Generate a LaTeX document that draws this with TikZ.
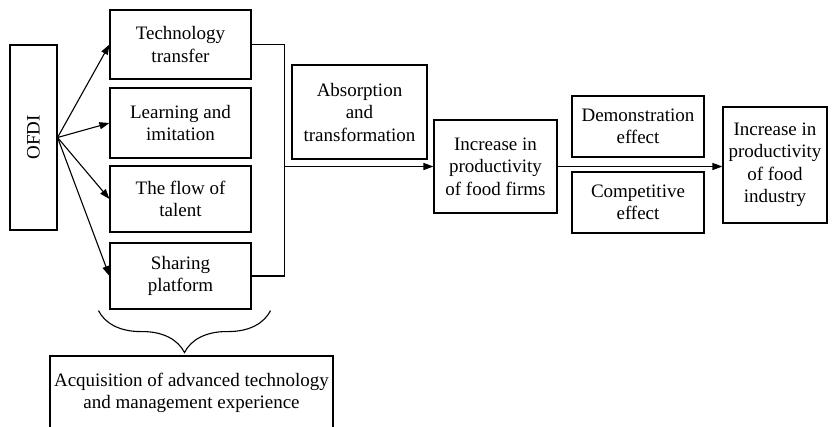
\documentclass[tikz,border=0pt]{standalone}
\usepackage{fontspec}
\setmainfont{Liberation Serif}
\newfontfamily\tnr{Liberation Serif}
\usetikzlibrary{arrows.meta}
\usetikzlibrary{decorations.pathreplacing}

\begin{document}
\begin{tikzpicture}[x=1pt,y=-1pt,line width=1.1pt,
    box/.style={draw,align=center,inner sep=0pt,
      font=\tnr\fontsize{19}{22.5}\selectfont},
    arr/.style={-{Triangle[length=10pt,width=7pt]}}]
  \useasboundingbox (0,0) rectangle (832,426);
  \path (33.5,137.5)
    node (of) [box,rotate=90,minimum width=185pt,minimum height=47pt] {OFDI};
  \path (180.5,44.5)
    node (tt) [box,minimum width=141pt,minimum height=69pt] {Technology\\transfer};
  \path (180.5,123)
    node (li) [box,minimum width=141pt,minimum height=70pt] {Learning and\\imitation};
  \path (180.5,199)
    node (ft) [box,minimum width=141pt,minimum height=66pt] {The flow of\\talent};
  \path (180.5,276)
    node (sp) [box,minimum width=141pt,minimum height=66pt] {Sharing\\platform};
  \path (359.5,112)
    node (ab) [box,minimum width=135pt,minimum height=94pt] {Absorption\\and\\transformation};
  \path (495.5,166.5)
    node (pf) [box,minimum width=123pt,minimum height=93pt] {Increase in\\productivity\\of food firms};
  \path (638,126.5)
    node (de) [box,minimum width=132pt,minimum height=61pt] {Demonstration\\effect};
  \path (638,202.5)
    node (ce) [box,minimum width=132pt,minimum height=61pt] {Competitive\\effect};
  \path (775,165)
    node (pi) [box,minimum width=104pt,minimum height=116pt] {Increase in\\productivity\\of food\\industry};
  \path (191.5,393)
    node (aq) [box,minimum width=283pt,minimum height=74pt] {Acquisition of advanced technology\\and management experience};

  % OFDI to the four channels
  \draw[arr] (of.south) -- (tt.west);
  \draw[arr] (of.south) -- (li.west);
  \draw[arr] (of.south) -- (ft.west);
  \draw[arr] (of.south) -- (sp.west);

  % channels joined and led on
  \path (node cs:name=tt,anchor=east) +(33,0) coordinate (tte) {};
  \path (node cs:name=sp,anchor=east) +(33,0) coordinate (spe) {};
  \draw (tt.east) -- (tte) -- (spe) -- (sp.east);
  \path (tte |- pf.west) coordinate (jn) {};
  \draw[arr] (jn) -- (pf.west);
  \draw[arr] (pf.east) -- (pf.east -| pi.west);

  % brace under the channels
  \path (node cs:name=sp,anchor=south west) +(-11,1) coordinate (bl) {};
  \path (node cs:name=sp,anchor=south east) +(19,1) coordinate (br) {};
  \draw[decorate,decoration={brace,mirror,amplitude=42pt}] (bl) -- (br);
\end{tikzpicture}
\end{document}
